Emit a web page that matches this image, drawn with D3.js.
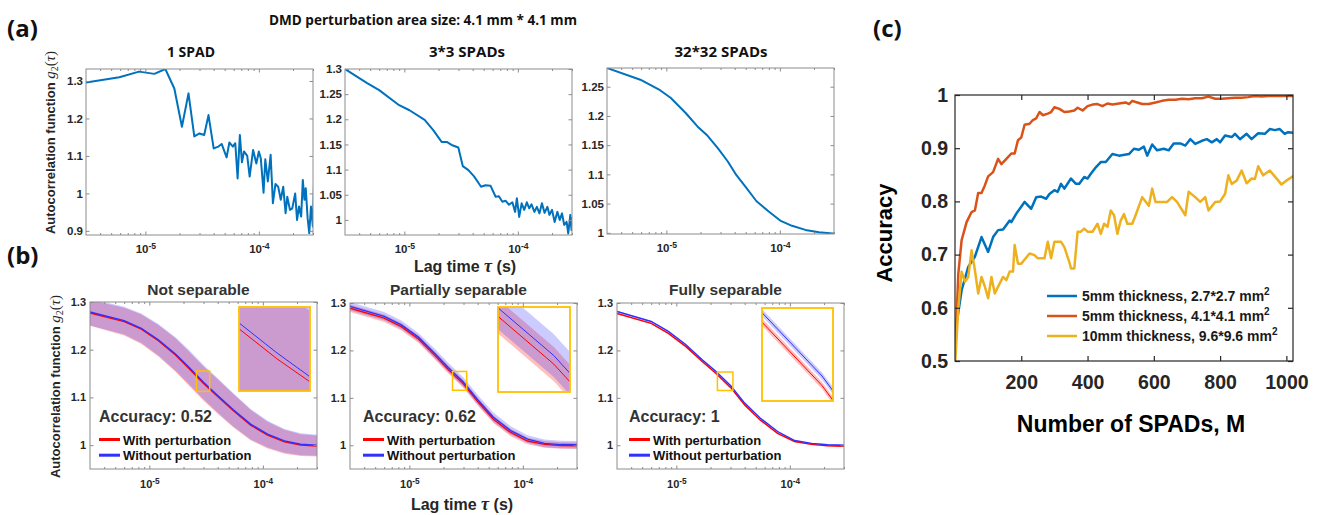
<!DOCTYPE html>
<html>
<head>
<meta charset="utf-8">
<title>SPAD perturbation figure</title>
<script src="https://cdn.jsdelivr.net/npm/d3@7"></script>
<style>
  body { margin: 0; background: #fff; }
</style>
</head>
<body>
<script>
// ---------- data ----------

// (a) lag time in microseconds, g2
const tauA1 = [3, 5.9, 8.8, 12, 15, 18, 21, 24, 27, 30, 33, 36, 40, 44, 47, 52, 55, 59, 62, 65, 68, 71, 74, 79, 83, 89, 95, 100, 104, 110, 114, 120, 127, 133, 140, 148, 156, 164, 172, 178, 188, 197, 209, 217, 226, 236, 244, 252, 259, 269, 278, 288, 299, 308];
const g2A1 = [1.296, 1.31, 1.325, 1.319, 1.332, 1.28, 1.178, 1.267, 1.152, 1.16, 1.156, 1.209, 1.12, 1.125, 1.132, 1.096, 1.136, 1.125, 1.134, 1.04, 1.156, 1.083, 1.112, 1.1, 1.045, 1.116, 1.08, 1.112, 1.094, 1.002, 1.091, 1.032, 1.103, 0.974, 1.025, 1.018, 0.983, 1.018, 0.947, 0.991, 0.956, 0.96, 1.0, 0.929, 0.965, 0.938, 1.036, 0.983, 1.014, 0.934, 0.894, 0.965, 0.912, 1.054];

const tauA2 = [3, 4.7, 6, 9, 11.1, 15.1, 17.9, 21.3, 23.6, 26.1, 29.9, 32.7, 36.7, 41.3, 47.4, 51.8, 57.4, 63.7, 68.1, 73, 78.2, 83.6, 89.5, 94.6, 98, 102.8, 108, 113.8, 120, 126, 132, 140, 147, 155, 163, 172, 182, 190, 200, 211, 223, 234, 245, 256, 269, 278, 290, 297, 300];
const g2A2 = [1.3, 1.272, 1.258, 1.228, 1.218, 1.199, 1.179, 1.155, 1.155, 1.149, 1.144, 1.107, 1.099, 1.086, 1.066, 1.069, 1.068, 1.046, 1.047, 1.036, 1.038, 1.03, 1.035, 1.016, 1.043, 1.006, 1.033, 1.02, 1.035, 1.023, 1.031, 1.016, 1.026, 1.013, 1.033, 1.014, 1.026, 1.01, 1.02, 0.996, 1.016, 1.0, 1.013, 0.99, 0.996, 0.973, 1.01, 0.98, 1.006];

const tauA3 = [3, 5.9, 8.8, 10.9, 14.8, 18.8, 23.1, 28.4, 34.8, 41.3, 50.7, 62.3, 79.3, 100.7, 128, 168, 221, 291, 300];
const g2A3 = [1.282, 1.262, 1.244, 1.231, 1.205, 1.182, 1.166, 1.145, 1.122, 1.099, 1.077, 1.054, 1.037, 1.021, 1.012, 1.005, 1.001, 0.999, 0.999];

const titlesA = ['1 SPAD', '3*3 SPADs', '32*32 SPADs'];
const yTicksA = [[0.9, 1, 1.1, 1.2, 1.3], [1, 1.05, 1.1, 1.15, 1.2, 1.25, 1.3], [1, 1.05, 1.1, 1.15, 1.2, 1.25]];
const yLabelsA = [['0.9', '1', '1.1', '1.2', '1.3'], ['1', '1.05', '1.1', '1.15', '1.2', '1.25', '1.3'], ['1', '1.05', '1.1', '1.15', '1.2', '1.25']];
const yDomA = [[0.889, 1.332], [0.97, 1.3], [0.998, 1.282]];

// shared log axis (seconds)
const tauDomain = [3e-6, 3e-4];
const tauMajor = [1e-5, 1e-4];
const tauMajorExp = ['-5', '-4'];
const tauMinor = [4e-6, 5e-6, 6e-6, 7e-6, 8e-6, 9e-6, 2e-5, 3e-5, 4e-5, 5e-5, 6e-5, 7e-5, 8e-5, 9e-5, 2e-4, 3e-4];

// (b) mean +/- sd, lag time in microseconds
const tauB = [3, 6, 8.5, 12, 17, 22, 30, 40, 55, 78, 110, 155, 215, 300];

const b1Red = [1.277, 1.259, 1.243, 1.219, 1.189, 1.162, 1.129, 1.102, 1.072, 1.042, 1.021, 1.007, 1.0, 0.998];
const b1Blue = [1.279, 1.261, 1.245, 1.221, 1.191, 1.165, 1.132, 1.104, 1.074, 1.044, 1.023, 1.009, 1.002, 1.0];
const b1RedSd = [0.027, 0.029, 0.031, 0.033, 0.035, 0.036, 0.036, 0.036, 0.035, 0.032, 0.028, 0.025, 0.023, 0.022];
const b1BlueSd = [0.028, 0.029, 0.031, 0.033, 0.035, 0.036, 0.036, 0.036, 0.035, 0.032, 0.028, 0.025, 0.023, 0.022];

const b2Red = [1.289, 1.268, 1.25, 1.224, 1.188, 1.16, 1.129, 1.092, 1.055, 1.027, 1.009, 1.002, 0.9995, 0.999];
const b2Blue = [1.293, 1.272, 1.254, 1.228, 1.192, 1.164, 1.133, 1.096, 1.059, 1.031, 1.013, 1.004, 1.0015, 1.001];
const b2RedSd = [0.008, 0.008, 0.008, 0.008, 0.008, 0.008, 0.008, 0.008, 0.008, 0.008, 0.007, 0.007, 0.007, 0.007];
const b2BlueSd = [0.009, 0.009, 0.009, 0.009, 0.01, 0.01, 0.01, 0.01, 0.01, 0.009, 0.008, 0.008, 0.008, 0.008];

const b3Red = [1.278, 1.257, 1.236, 1.209, 1.176, 1.153, 1.122, 1.085, 1.053, 1.025, 1.008, 1.002, 0.999, 0.998];
const b3Blue = [1.282, 1.261, 1.24, 1.213, 1.18, 1.157, 1.126, 1.089, 1.057, 1.029, 1.01, 1.004, 1.001, 1.0];
const b3RedSd = [0.0015, 0.0015, 0.0015, 0.0015, 0.0015, 0.0015, 0.0015, 0.0015, 0.0015, 0.0015, 0.0015, 0.0015, 0.0015, 0.0015];
const b3BlueSd = [0.0015, 0.0015, 0.0015, 0.0015, 0.0015, 0.0015, 0.0015, 0.0015, 0.0015, 0.0015, 0.0015, 0.0015, 0.0015, 0.0015];

// zoomed region shown in each inset: lag time (us) and g2 limits
const boxTauB = [[26, 34], [24, 32], [23, 31.5]];
const boxG2B = [[1.1126, 1.1553], [1.116, 1.1557], [1.1155, 1.1545]];

const titlesB = ['Not separable', 'Partially separable', 'Fully separable'];
const accuracyB = ['0.52', '0.62', '1'];
const legendB = ['With perturbation', 'Without perturbation'];
const yTicksB = [1, 1.1, 1.2, 1.3];
const yLabelsB = ['1', '1.1', '1.2', '1.3'];
const yDomB = [0.95, 1.3];

// (c) accuracy vs number of SPADs
const mBlue = [1, 5, 20, 40, 60, 80, 100, 115, 130, 145, 165, 170, 185, 210, 230, 245, 260, 275, 285, 300, 310, 320, 330, 350, 365, 375, 390, 400, 410, 425, 440, 455, 475, 495, 525, 540, 555, 570, 580, 595, 610, 630, 645, 660, 680, 695, 710, 725, 745, 760, 775, 790, 800, 815, 835, 845, 860, 880, 895, 915, 935, 950, 965, 980, 995, 1005, 1024];
const accBlue = [0.525, 0.571, 0.633, 0.677, 0.696, 0.733, 0.705, 0.733, 0.746, 0.747, 0.764, 0.761, 0.777, 0.799, 0.786, 0.808, 0.809, 0.805, 0.814, 0.821, 0.818, 0.833, 0.824, 0.843, 0.833, 0.833, 0.846, 0.843, 0.852, 0.864, 0.874, 0.874, 0.889, 0.886, 0.889, 0.899, 0.897, 0.903, 0.886, 0.907, 0.896, 0.899, 0.896, 0.909, 0.909, 0.905, 0.917, 0.908, 0.914, 0.917, 0.911, 0.917, 0.911, 0.924, 0.921, 0.927, 0.917, 0.927, 0.917, 0.928, 0.927, 0.936, 0.934, 0.936, 0.927, 0.93, 0.929];

const mOrange = [1, 10, 20, 35, 50, 60, 70, 80, 90, 100, 115, 130, 140, 155, 170, 180, 190, 200, 210, 225, 235, 245, 255, 265, 280, 290, 300, 315, 330, 345, 360, 370, 385, 400, 415, 430, 445, 460, 475, 495, 515, 525, 535, 550, 565, 585, 605, 625, 645, 665, 685, 705, 725, 745, 765, 785, 805, 825, 845, 865, 885, 905, 925, 945, 965, 985, 1015, 1024];
const accOrange = [0.523, 0.664, 0.727, 0.761, 0.78, 0.783, 0.816, 0.816, 0.83, 0.847, 0.855, 0.88, 0.87, 0.88, 0.89, 0.89, 0.915, 0.92, 0.944, 0.946, 0.953, 0.956, 0.968, 0.962, 0.965, 0.968, 0.977, 0.974, 0.968, 0.969, 0.971, 0.976, 0.971, 0.979, 0.982, 0.983, 0.979, 0.984, 0.982, 0.984, 0.986, 0.983, 0.989, 0.986, 0.983, 0.983, 0.986, 0.989, 0.991, 0.991, 0.993, 0.992, 0.994, 0.994, 0.997, 0.993, 0.993, 0.994, 0.995, 0.995, 0.996, 0.998, 0.997, 0.998, 0.998, 0.998, 0.998, 0.998];

const mYellow = [1, 10, 20, 30, 40, 50, 60, 70, 80, 90, 100, 110, 120, 135, 145, 155, 165, 175, 180, 190, 200, 225, 240, 250, 270, 280, 290, 300, 320, 330, 345, 350, 360, 370, 380, 390, 400, 415, 430, 440, 450, 460, 470, 480, 490, 500, 510, 520, 535, 545, 565, 585, 595, 605, 640, 655, 670, 695, 705, 725, 740, 755, 765, 785, 800, 815, 825, 835, 850, 865, 880, 895, 905, 915, 930, 950, 965, 985, 1000, 1024];
const accYellow = [0.5, 0.6, 0.668, 0.649, 0.658, 0.708, 0.671, 0.627, 0.658, 0.64, 0.618, 0.658, 0.627, 0.646, 0.658, 0.652, 0.668, 0.668, 0.718, 0.683, 0.683, 0.702, 0.699, 0.693, 0.693, 0.724, 0.693, 0.724, 0.724, 0.714, 0.686, 0.674, 0.674, 0.743, 0.743, 0.749, 0.743, 0.743, 0.758, 0.739, 0.758, 0.752, 0.783, 0.774, 0.739, 0.764, 0.776, 0.758, 0.758, 0.774, 0.808, 0.792, 0.824, 0.799, 0.799, 0.808, 0.799, 0.774, 0.818, 0.808, 0.799, 0.808, 0.783, 0.799, 0.8, 0.814, 0.849, 0.833, 0.839, 0.858, 0.834, 0.843, 0.842, 0.866, 0.849, 0.858, 0.847, 0.832, 0.839, 0.849];

const legendC = ['5mm thickness, 2.7*2.7 mm', '5mm thickness, 4.1*4.1 mm', '10mm thickness, 9.6*9.6 mm'];
const xTicksC = [200, 400, 600, 800, 1000];
const xLabelsC = ['200', '400', '600', '800', '1000'];
const yTicksC = [0.5, 0.6, 0.7, 0.8, 0.9, 1];
const yLabelsC = ['0.5', '0.6', '0.7', '0.8', '0.9', '1'];

// ---------- drawing ----------
const FONT = '"Liberation Sans", Arial, sans-serif';
const HEAD = '"Open Sans", "Noto Sans", sans-serif';
const SERIF = '"Liberation Serif", "DejaVu Serif", serif';
const INK = '#262626';
const RED = '#ff0000';
const BLUE = '#3030ff';
const GOLD = '#ffc000';
const us = 1e-6;

const svg = d3.select('body').append('svg')
  .attr('width', 1318)
  .attr('height', 515)
  .style('display', 'block');
const defs = svg.append('defs');

let clipCount = 0;
function clip(x0, y0, w, h) {
  const id = 'clip' + clipCount++;
  defs.append('clipPath').attr('id', id).append('rect')
    .attr('x', x0).attr('y', y0).attr('width', w).attr('height', h);
  return `url(#${id})`;
}

function label(g, x, y, txt, size, opts = {}) {
  const t = g.append('text')
    .attr('x', x).attr('y', y)
    .attr('font-family', opts.family || FONT)
    .attr('font-weight', opts.weight || 'bold')
    .attr('font-size', size)
    .attr('fill', opts.fill || '#000')
    .attr('text-anchor', opts.anchor || 'start')
    .text(txt);
  if (opts.length) t.attr('textLength', opts.length).attr('lengthAdjust', 'spacingAndGlyphs');
  if (opts.rotate) t.attr('transform', `rotate(-90,${x},${y})`);
  return t;
}

// MATLAB style box axes, ticks pointing inward on all four sides
function drawAxes(g, x, y, o) {
  const [xl, xr] = x.range();
  const [yb, yt] = y.range();
  const fmt = labels => (d, i) => (labels ? labels[i] : '');

  const bottom = g.append('g')
    .attr('transform', `translate(0,${yb})`)
    .call(d3.axisBottom(x).tickValues(o.xTicks).tickSize(-o.tick).tickSizeOuter(0)
      .tickPadding(o.xPad).tickFormat(fmt(o.xLabels)));
  g.append('g')
    .attr('transform', `translate(0,${yt})`)
    .call(d3.axisTop(x).tickValues(o.xTicks).tickSize(-o.tick).tickSizeOuter(0).tickFormat(''));

  if (o.xMinor) {
    [[d3.axisBottom, yb], [d3.axisTop, yt]].forEach(([axis, pos]) => {
      g.append('g')
        .attr('transform', `translate(0,${pos})`)
        .call(axis(x).tickValues(o.xMinor).tickSize(-o.minor).tickSizeOuter(0).tickFormat(''));
    });
  }

  g.append('g')
    .attr('transform', `translate(${xl},0)`)
    .call(d3.axisLeft(y).tickValues(o.yTicks).tickSize(-o.tick).tickSizeOuter(0)
      .tickPadding(o.yPad).tickFormat(fmt(o.yLabels)));
  g.append('g')
    .attr('transform', `translate(${xr},0)`)
    .call(d3.axisRight(y).tickValues(o.yTicks).tickSize(-o.tick).tickSizeOuter(0).tickFormat(''));

  g.selectAll('.domain').remove();
  g.selectAll('.tick line').attr('stroke', o.color).attr('stroke-width', o.width);
  g.selectAll('.tick text')
    .attr('fill', INK)
    .attr('font-family', FONT)
    .attr('font-weight', 'bold')
    .attr('font-size', o.fontSize);

  g.append('rect')
    .attr('x', xl).attr('y', yt)
    .attr('width', xr - xl).attr('height', yb - yt)
    .attr('fill', 'none')
    .attr('stroke', o.color)
    .attr('stroke-width', o.width);
  return bottom;
}

function powerLabels(axisG) {
  axisG.selectAll('.tick text').each(function(d, i) {
    const t = d3.select(this).text('10');
    t.append('tspan').attr('dy', '-0.5em').attr('font-size', '0.75em').text(tauMajorExp[i]);
  });
}

function g2Label(x, y, size) {
  const t = label(svg, x, y, 'Autocorrelation function ', size, { anchor: 'middle', rotate: true, fill: INK });
  t.append('tspan').attr('font-family', SERIF).attr('font-style', 'italic').attr('font-weight', 'normal')
    .attr('font-size', size + 2).text('g');
  t.append('tspan').attr('font-family', SERIF).attr('font-weight', 'normal')
    .attr('font-size', size - 3).attr('dy', 3).text('2');
  t.append('tspan').attr('font-family', SERIF).attr('font-weight', 'normal')
    .attr('font-size', size + 2).attr('dy', -3).text('(');
  t.append('tspan').attr('font-family', SERIF).attr('font-style', 'italic').attr('font-weight', 'normal')
    .attr('font-size', size + 2).text('τ');
  t.append('tspan').attr('font-family', SERIF).attr('font-weight', 'normal')
    .attr('font-size', size + 2).text(')');
}

function lagLabel(x, y) {
  const t = label(svg, x, y, 'Lag time ', 16, { anchor: 'middle', fill: INK });
  t.append('tspan').attr('font-family', SERIF).attr('font-style', 'italic').attr('font-size', 18).text('τ');
  t.append('tspan').text(' (s)');
}

// ----- panel (a) -----
const aLayout = [
  { left: 86, top: 69, w: 227, h: 166, titleX: 191, titleW: 48 },
  { left: 345, top: 69, w: 227, h: 166, titleX: 467, titleW: 76 },
  { left: 607, top: 68, w: 227, h: 166, titleX: 721, titleW: 93 }
];
const aData = [[tauA1, g2A1], [tauA2, g2A2], [tauA3, g2A3]];

aLayout.forEach((p, k) => {
  const [tau, g2] = aData[k];
  const x = d3.scaleLog().domain(tauDomain).range([p.left, p.left + p.w]);
  const y = d3.scaleLinear().domain(yDomA[k]).range([p.top + p.h, p.top]);
  const g = svg.append('g');

  const line = d3.line()
    .x((d, i) => x(tau[i] * us))
    .y(d => y(d));
  g.append('path')
    .datum(g2)
    .attr('d', line)
    .attr('fill', 'none')
    .attr('stroke', '#0072bd')
    .attr('stroke-width', 2)
    .attr('stroke-linejoin', 'round')
    .attr('clip-path', clip(p.left, p.top, p.w, p.h));

  const bottom = drawAxes(g, x, y, {
    xTicks: tauMajor, xLabels: ['10', '10'], xMinor: tauMinor,
    yTicks: yTicksA[k], yLabels: yLabelsA[k],
    tick: 3.5, minor: 2, xPad: 10, yPad: 3,
    color: '#8c8c8c', width: 1, fontSize: 11.5
  });
  powerLabels(bottom);

  label(svg, p.titleX, 57, titlesA[k], 13.5, { family: HEAD, anchor: 'middle', length: p.titleW, fill: '#111' });
});

label(svg, 423, 25, 'DMD perturbation area size: 4.1 mm * 4.1 mm', 15, { family: HEAD, anchor: 'middle', length: 308, fill: '#111' });
g2Label(55, 142.5, 13);
lagLabel(465, 272);
label(svg, 7, 37, '(a)', 24, { family: HEAD, fill: '#111' });

// ----- panel (b) -----
const bLayout = [
  { left: 90, top: 302, w: 227, h: 167, inset: [239, 307, 71, 84], accDx: 9 },
  { left: 350, top: 303, w: 227, h: 166, inset: [498, 307, 72, 85], accDx: 13 },
  { left: 617, top: 303, w: 227, h: 166, inset: [762, 308, 71, 93], accDx: 12 }
];
const bData = [
  [[b1Red, b1RedSd], [b1Blue, b1BlueSd]],
  [[b2Red, b2RedSd], [b2Blue, b2BlueSd]],
  [[b3Red, b3RedSd], [b3Blue, b3BlueSd]]
];
const bColors = [RED, BLUE];

function drawBands(g, x, y, series, lw) {
  series.forEach(([mean, sd], s) => {
    const area = d3.area()
      .x((d, i) => x(tauB[i] * us))
      .y0((d, i) => y(mean[i] - sd[i]))
      .y1((d, i) => y(mean[i] + sd[i]));
    g.append('path')
      .datum(mean)
      .attr('d', area)
      .attr('fill', bColors[s])
      .attr('fill-opacity', 0.25);
  });
  series.forEach(([mean], s) => {
    const line = d3.line()
      .x((d, i) => x(tauB[i] * us))
      .y(d => y(d));
    g.append('path')
      .datum(mean)
      .attr('d', line)
      .attr('fill', 'none')
      .attr('stroke', bColors[s])
      .attr('stroke-width', lw);
  });
}

bLayout.forEach((p, k) => {
  const x = d3.scaleLog().domain(tauDomain).range([p.left, p.left + p.w]);
  const y = d3.scaleLinear().domain(yDomB).range([p.top + p.h, p.top]);
  const g = svg.append('g');

  const plot = g.append('g').attr('clip-path', clip(p.left, p.top, p.w, p.h));
  drawBands(plot, x, y, bData[k], 1.4);

  // region that is magnified in the inset
  const bt = boxTauB[k].map(v => v * us);
  const bg = boxG2B[k];
  g.append('rect')
    .attr('x', x(bt[0]))
    .attr('y', y(bg[1]))
    .attr('width', x(bt[1]) - x(bt[0]))
    .attr('height', y(bg[0]) - y(bg[1]))
    .attr('fill', 'none')
    .attr('stroke', GOLD)
    .attr('stroke-width', 1.5);

  const [ix, iy, iw, ih] = p.inset;
  const xi = d3.scaleLog().domain(bt).range([ix, ix + iw]);
  const yi = d3.scaleLinear().domain(bg).range([iy + ih, iy]);
  g.append('rect').attr('x', ix).attr('y', iy).attr('width', iw).attr('height', ih).attr('fill', '#fff');
  const ins = g.append('g').attr('clip-path', clip(ix, iy, iw, ih));
  drawBands(ins, xi, yi, bData[k], 1);
  g.append('rect')
    .attr('x', ix).attr('y', iy).attr('width', iw).attr('height', ih)
    .attr('fill', 'none')
    .attr('stroke', GOLD)
    .attr('stroke-width', 1.8);

  const bottom = drawAxes(g, x, y, {
    xTicks: tauMajor, xLabels: ['10', '10'], xMinor: tauMinor,
    yTicks: yTicksB, yLabels: yLabelsB,
    tick: 3.5, minor: 2, xPad: 11, yPad: 4,
    color: '#8c8c8c', width: 1, fontSize: 11
  });
  powerLabels(bottom);

  label(svg, p.left + p.w / 2 - 5, 295, titlesB[k], 15.5, { anchor: 'middle', fill: '#333' });
  label(svg, p.left + p.accDx, 422, 'Accuracy: ' + accuracyB[k], 16, { fill: '#333' });

  legendB.forEach((txt, s) => {
    const ly = 439.5 + s * 15.7;
    g.append('line')
      .attr('x1', p.left + p.accDx).attr('x2', p.left + p.accDx + 21)
      .attr('y1', ly).attr('y2', ly)
      .attr('stroke', bColors[s])
      .attr('stroke-width', 3);
    label(g, p.left + p.accDx + 24, ly + 5, txt, 13, { fill: '#111' });
  });
});

g2Label(59.5, 386.5, 13);
lagLabel(462, 510);
label(svg, 7, 264, '(b)', 24, { family: HEAD, fill: '#111' });

// ----- panel (c) -----
const xc = d3.scaleLinear().domain([0, 1020]).range([955, 1293]);
const yc = d3.scaleLinear().domain([0.5, 1]).range([361, 95]);
const gc = svg.append('g');
const cSeries = [
  [mBlue, accBlue, '#0072bd'],
  [mOrange, accOrange, '#d95319'],
  [mYellow, accYellow, '#edb120']
];
const cPlot = gc.append('g').attr('clip-path', clip(955, 95, 338, 266));
cSeries.forEach(([m, acc, color]) => {
  const line = d3.line()
    .x((d, i) => xc(m[i]))
    .y(d => yc(d));
  cPlot.append('path')
    .datum(acc)
    .attr('d', line)
    .attr('fill', 'none')
    .attr('stroke', color)
    .attr('stroke-width', 2.5)
    .attr('stroke-linejoin', 'round');
});

drawAxes(gc, xc, yc, {
  xTicks: xTicksC, xLabels: xLabelsC,
  yTicks: yTicksC, yLabels: yLabelsC,
  tick: 5, xPad: 14, yPad: 7,
  color: '#262626', width: 1.2, fontSize: 19.5
});

cSeries.forEach(([, , color], s) => {
  const ly = 296 + s * 20;
  gc.append('line')
    .attr('x1', 1047).attr('x2', 1077)
    .attr('y1', ly).attr('y2', ly)
    .attr('stroke', color)
    .attr('stroke-width', 2.5);
  const t = label(gc, 1082, ly + 5, legendC[s], 14, { fill: '#1a1a1a' });
  t.append('tspan').attr('dy', -6).attr('font-size', 10).text('2');
});

label(svg, 1131, 432, 'Number of SPADs, M', 23, { anchor: 'middle' });
label(svg, 892, 233, 'Accuracy', 22, { anchor: 'middle', rotate: true });
label(svg, 873, 37, '(c)', 24, { family: HEAD, fill: '#111' });
</script>
</body>
</html>
